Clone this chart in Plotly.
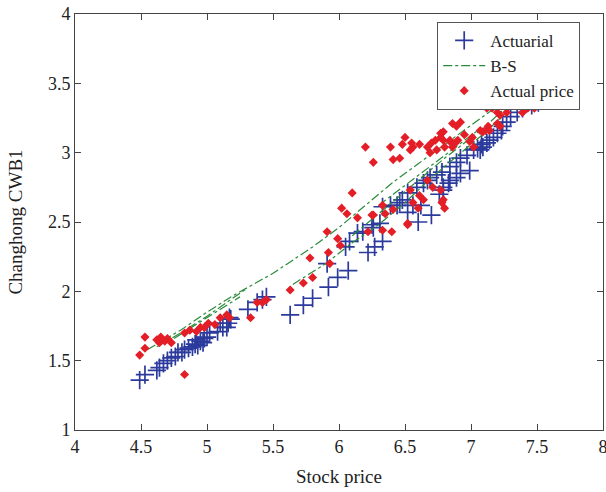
import plotly.graph_objects as go

# Actuarial (blue +)
act_x = [4.49, 4.53, 4.62, 4.64, 4.67, 4.70, 4.73, 4.76, 4.78, 4.81, 4.83, 4.86,
         4.89, 4.91, 4.93, 4.95, 4.97, 4.98, 4.92, 5.00, 5.02, 5.08, 5.12, 5.16,
         5.10, 5.17, 5.15, 5.18, 5.31, 5.38, 5.42, 5.45, 5.63, 5.73, 5.80, 5.92,
         5.99, 6.07, 5.91, 6.05, 6.08, 6.14, 6.18, 6.22, 6.27, 6.33, 6.25, 6.33,
         6.39, 6.44, 6.48, 6.52, 6.26, 6.31, 6.46, 6.56, 6.59, 6.64, 6.67, 6.69,
         6.74, 6.78, 6.79, 6.83, 6.84, 6.89, 6.92, 6.97, 6.99, 7.02, 7.05, 7.08,
         7.12, 7.14, 7.17, 6.79, 6.84, 6.89, 6.92, 7.07, 7.09, 7.20, 7.23, 7.24,
         7.27, 7.30, 7.35, 7.39, 7.46, 7.51, 7.54, 7.50, 6.52, 6.62, 6.70, 6.76,
         6.60]
act_y = [1.36, 1.40, 1.43, 1.45, 1.48, 1.50, 1.52, 1.53, 1.56, 1.56, 1.58, 1.59,
         1.60, 1.62, 1.61, 1.64, 1.63, 1.66, 1.65, 1.67, 1.70, 1.71, 1.74, 1.77,
         1.77, 1.81, 1.74, 1.80, 1.87, 1.92, 1.94, 1.96, 1.83, 1.90, 1.95, 2.03,
         2.10, 2.15, 2.20, 2.32, 2.36, 2.42, 2.43, 2.28, 2.32, 2.36, 2.48, 2.61,
         2.62, 2.62, 2.66, 2.71, 2.46, 2.49, 2.64, 2.62, 2.75, 2.78, 2.80, 2.82,
         2.84, 2.86, 2.75, 2.78, 2.90, 2.93, 2.96, 2.98, 2.87, 3.02, 3.03, 3.06,
         3.07, 3.09, 3.11, 2.73, 2.80, 2.82, 2.85, 3.02, 3.04, 3.14, 3.16, 3.19,
         3.22, 3.26, 3.29, 3.32, 3.34, 3.36, 3.38, 3.39, 2.57, 2.62, 2.55, 2.70,
         2.50]

# B-S (green dash-dot), several curves separated by None
bs_x = [4.55, 4.8, 5.0, 5.2, 5.5, 5.8, 6.0, 6.2, 6.4, 6.6, 6.8, 7.0, 7.2, 7.35, None,
        4.62, 4.8, 5.0, 5.15, 5.3, None,
        4.75, 4.95, 5.1, 5.25, None,
        5.65, 5.9, 6.1, 6.3, 6.5, 6.7, 6.9, 7.1, 7.3, None,
        6.1, 6.3, 6.5, 6.8, 7.1, 7.3, None,
        6.3, 6.55, 6.8, 7.05]
bs_y = [1.58, 1.72, 1.85, 1.97, 2.13, 2.32, 2.46, 2.62, 2.78, 2.92, 3.06, 3.20, 3.34, 3.44, None,
        1.60, 1.70, 1.82, 1.92, 2.02, None,
        1.66, 1.78, 1.87, 1.96, None,
        2.05, 2.20, 2.35, 2.48, 2.64, 2.82, 2.98, 3.14, 3.32, None,
        2.40, 2.56, 2.72, 2.96, 3.18, 3.36, None,
        2.62, 2.80, 2.98, 3.16]

# Actual price (red diamonds)
real_x = [4.53, 4.49, 4.53, 4.62, 4.65, 4.68, 4.70, 4.73, 4.64, 4.83, 4.87, 4.92,
          4.95, 4.98, 5.01, 5.06, 5.10, 5.15, 5.17, 4.83, 5.33, 5.38, 5.42, 5.45,
          5.63, 5.73, 5.80, 5.78, 5.92, 5.93, 5.91, 5.99, 6.01, 6.02, 6.06, 6.10,
          6.14, 6.25, 6.33, 6.35, 6.22, 6.33, 6.40, 6.41, 6.52,
          6.20, 6.26, 6.39, 6.41, 6.46, 6.48, 6.54, 6.56, 6.55, 6.61, 6.50,
          6.67, 6.69, 6.70, 6.73, 6.74, 6.77, 6.79, 6.80, 6.84, 6.88, 6.90, 6.95,
          7.11, 7.13, 7.16, 7.12, 7.18, 7.22, 7.27, 7.35, 7.39, 7.43,
          6.86, 6.92, 6.89, 7.01, 7.07, 7.09, 7.14, 7.20, 7.22,
          6.79, 6.84, 6.86, 6.99, 7.02, 6.77,
          6.26, 6.54, 6.67, 6.56, 6.60, 6.64, 6.77, 6.79, 6.78, 6.52, 6.61,
          6.71, 6.80, 7.20, 7.42, 7.46, 7.48, 7.55]
real_y = [1.67, 1.54, 1.59, 1.65, 1.67, 1.64, 1.66, 1.63, 1.63, 1.70, 1.72, 1.71,
          1.74, 1.74, 1.77, 1.76, 1.81, 1.83, 1.81, 1.40, 1.81, 1.92, 1.92, 1.94,
          2.01, 2.06, 2.10, 2.24, 2.28, 2.20, 2.43, 2.38, 2.33, 2.60, 2.56, 2.71,
          2.53, 2.55, 2.62, 2.56, 2.43, 2.44, 2.43, 2.59, 2.48,
          3.04, 2.93, 3.04, 2.95, 2.96, 3.06, 3.02, 3.04, 3.07, 3.06, 3.11,
          3.04, 3.00, 3.07, 3.09, 3.02, 3.11, 3.15, 3.04, 3.09, 3.07, 3.09, 3.13,
          3.16, 3.19, 3.32, 3.32, 3.34, 3.27, 3.29, 3.34, 3.29, 3.32,
          3.21, 3.22, 3.19, 3.11, 3.16, 3.15, 3.16, 3.21, 3.19,
          3.09, 3.08, 3.04, 3.08, 3.04, 3.14,
          2.55, 2.73, 2.80, 2.64, 2.60, 2.66, 2.73, 2.66, 2.64, 2.49, 2.69,
          2.75, 2.60, 3.29, 3.32, 3.34, 3.32, 3.38]

x_ticks = [4, 4.5, 5, 5.5, 6, 6.5, 7, 7.5, 8]
y_ticks = [1, 1.5, 2, 2.5, 3, 3.5, 4]

FONT = "Liberation Serif"
TXT = "#222222"

fig = go.Figure()
fig.add_trace(go.Scatter(
    x=act_x, y=act_y, mode="markers", name="Actuarial",
    marker=dict(symbol="cross-thin", size=13, line=dict(color="#2b3a9c", width=1.7)),
))
fig.add_trace(go.Scatter(
    x=bs_x, y=bs_y, mode="lines", name="B-S", connectgaps=False,
    line=dict(color="#2a8c3a", width=1.2, dash="dashdot"),
))
fig.add_trace(go.Scatter(
    x=real_x, y=real_y, mode="markers", name="Actual price",
    marker=dict(symbol="diamond", size=7, color="#e41e26"),
))

axis_common = dict(
    showline=True, linecolor="#444444", linewidth=1, mirror="ticks",
    ticks="inside", ticklen=6, tickcolor="#444444", showgrid=False, zeroline=False,
    tickfont=dict(family=FONT, size=18, color=TXT), automargin=False,
    ticklabeloverflow="allow",
)
fig.update_xaxes(range=[4, 8], tickvals=x_ticks, ticktext=[f"{v:g}" for v in x_ticks],
                 title=dict(text="Stock price", font=dict(family=FONT, size=19, color=TXT), standoff=14),
                 **axis_common)
fig.update_yaxes(range=[1, 4], tickvals=y_ticks, ticktext=[f"{v:g}" for v in y_ticks],
                 title=dict(text="Changhong CWB1", font=dict(family=FONT, size=19, color=TXT), standoff=20),
                 **axis_common)

fig.update_layout(
    width=606, height=492,
    margin=dict(l=75, r=3, t=14, b=62, autoexpand=False),
    paper_bgcolor="white", plot_bgcolor="white",
    font=dict(family=FONT, size=18, color=TXT),
    legend=dict(x=0.686, y=0.981, xanchor="left", yanchor="top",
                bgcolor="white", bordercolor="#555555", borderwidth=1,
                font=dict(family=FONT, size=17, color=TXT),
                tracegroupgap=0, itemwidth=42),
    showlegend=True,
)

fig.write_html("out.html", config={"displayModeBar": False},
               post_script="document.body.style.margin='0';")
